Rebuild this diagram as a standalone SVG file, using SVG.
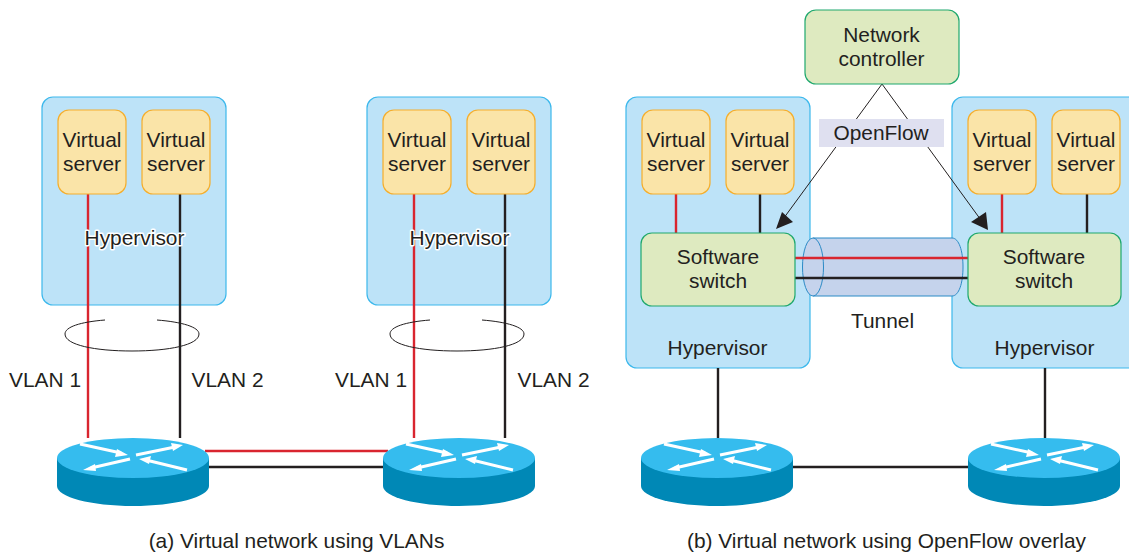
<svg xmlns="http://www.w3.org/2000/svg" width="1129" height="553" viewBox="0 0 1129 553">
<style>
text{font-family:"Liberation Sans",Arial,sans-serif;font-size:20.9px;fill:#231f20;text-anchor:middle}
.hv{fill:#bde3f8;stroke:#3cb8ec;stroke-width:1.2}
.vs{fill:#fae4a8;stroke:#f5ae2c;stroke-width:1.2}
.sw{fill:#deeac0;stroke:#1fa86e;stroke-width:1.2}
.red{stroke:#d9252f;stroke-width:2.4;fill:none}
.blk{stroke:#231f20;stroke-width:2.4;fill:none}
.thin{stroke:#231f20;stroke-width:1;fill:none}
.halo{stroke:#fff;stroke-width:3;paint-order:stroke;stroke-linejoin:round}
.ra{stroke:#fff;stroke-width:3;fill:none}
</style>
<defs>
<g id="router">
<path d="M-76 0V28C-76 39 -42 48 0 48S76 39 76 28V0Z" fill="#0088b6"/>
<ellipse cx="0" cy="0" rx="76" ry="20" fill="#35bcee"/>
<path class="ra" d="M-53 -14L-12 -5M-3 1L-42 10M3 -3L42 -11M54 12L13 2"/>
<path fill="#fff" d="M-5 -3L-16 -9L-18 -1ZM-50 12L-38 6L-37 13ZM50 -13L38 -15L40 -7ZM6 1L18 -2L16 6Z"/>
</g>
<g id="vs-box"><rect class="vs" width="68" height="84" rx="11"/><text x="34" y="37">Virtual</text><text x="34" y="61">server</text></g>
</defs>
<g id="hypervisor-a1"><rect class="hv" x="42" y="97" width="184" height="208" rx="11"/></g>
<g id="hypervisor-a2"><rect class="hv" x="367" y="97" width="184" height="208" rx="11"/></g>
<g id="hypervisor-b1"><rect class="hv" x="626" y="97" width="184" height="271" rx="11"/><text x="717.500" y="355">Hypervisor</text></g>
<g id="hypervisor-b2"><rect class="hv" x="952" y="97" width="190" height="271" rx="11"/><text x="1044.500" y="355">Hypervisor</text></g>
<g id="tunnel">
<path d="M813 238H952C959 238 963 251 963 267S959 296 952 296H813Z" fill="#c5d3ec" stroke="#2b8ac6" stroke-width="1"/>
<ellipse cx="813" cy="267" rx="10.500" ry="29" fill="#c5d3ec" stroke="#2b8ac6" stroke-width="1"/>
</g>
<g id="connectors">
<path class="red" d="M88 194V438"/>
<path class="blk" d="M180 194V438"/>
<path class="red" d="M414 194V438"/>
<path class="blk" d="M505 194V438"/>
<path class="red" d="M205 451H388"/>
<path class="blk" d="M205 467H388"/>
<path class="red" d="M676 194V233M1002 194V233M795 258H968"/>
<path class="blk" d="M760 194V233M1087 194V233M795 278H968"/>
<path class="blk" d="M718 368V438M1045 368V438M790 467H970"/>
<path class="thin" d="M105 320C80 322 65 327 65 334C65 345 95 351 132 351S199 345 199 334C199 327 182 322 157 320"/>
<path class="thin" d="M430 320C405 322 390 327 390 334C390 345 420 351 457 351S524 345 524 334C524 327 507 322 482 320"/>
<path class="thin" d="M882 84L778 226M882 84L986 227"/>
<path fill="#231f20" d="M776 229L782 212L793 222ZM988 230L986 212L971 222Z"/>
</g>
<g id="router-a1"><use href="#router" x="133" y="458"/></g>
<g id="router-a2"><use href="#router" x="459" y="458"/></g>
<g id="router-b1"><use href="#router" x="717" y="458"/></g>
<g id="router-b2"><use href="#router" x="1044" y="458"/></g>
<g id="vs-a1"><use href="#vs-box" x="58" y="110"/></g>
<g id="vs-a2"><use href="#vs-box" x="142" y="110"/></g>
<g id="vs-a3"><use href="#vs-box" x="383" y="110"/></g>
<g id="vs-a4"><use href="#vs-box" x="467" y="110"/></g>
<g id="vs-b1"><use href="#vs-box" x="642" y="110"/></g>
<g id="vs-b2"><use href="#vs-box" x="726" y="110"/></g>
<g id="vs-b3"><use href="#vs-box" x="968" y="110"/></g>
<g id="vs-b4"><use href="#vs-box" x="1052" y="110"/></g>
<g id="switch-b1"><rect class="sw" x="641" y="233" width="154" height="73" rx="11"/><text x="718" y="264">Software</text><text x="718" y="288">switch</text></g>
<g id="switch-b2"><rect class="sw" x="968" y="233" width="153" height="73" rx="11"/><text x="1044" y="264">Software</text><text x="1044" y="288">switch</text></g>
<g id="controller"><rect class="sw" x="805" y="10" width="154" height="74" rx="11"/><text x="881.500" y="42">Network</text><text x="881.500" y="66">controller</text></g>
<g id="openflow"><rect x="819" y="119" width="125" height="28" fill="#dfe0f0"/><text x="881" y="140">OpenFlow</text></g>
<g id="labels">
<text class="halo" x="134.500" y="245">Hypervisor</text>
<text class="halo" x="459.500" y="245">Hypervisor</text>
<text x="45" y="387">VLAN 1</text>
<text x="227.500" y="387">VLAN 2</text>
<text x="371" y="387">VLAN 1</text>
<text x="553.500" y="387">VLAN 2</text>
<text x="882.500" y="328">Tunnel</text>
<text x="296.500" y="548">(a) Virtual network using VLANs</text>
<text x="886.500" y="548">(b) Virtual network using OpenFlow overlay</text>
</g>
</svg>
